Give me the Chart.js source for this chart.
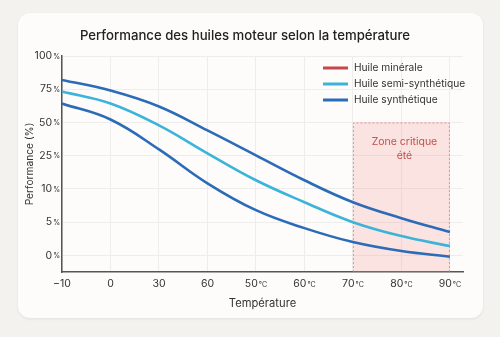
<!DOCTYPE html>
<html lang="fr">
<head>
<meta charset="utf-8">
<title>Performance des huiles moteur</title>
<script src="https://cdn.jsdelivr.net/npm/chart.js@4/dist/chart.umd.min.js"></script>
<style>
  html, body { margin: 0; padding: 0; background: #f3f2ef; }
  body { width: 500px; height: 337px; position: relative; overflow: hidden; }
  .card {
    position: absolute; left: 18px; top: 13px; width: 465px; height: 305px;
    background: #fdfcfa; border-radius: 12px;
    box-shadow: 0 1px 3px rgba(0, 0, 0, 0.08);
  }
  #chart { position: absolute; left: 0; top: 0; }
</style>
</head>
<body>
<div class="card"></div>
<canvas id="chart" width="500" height="337"></canvas>
<script>
// ========== Data ==========

const chartTitle = 'Performance des huiles moteur selon la température';
const tempLabels = ['\u221210', '0', '30', '60', '50\u00b0C', '60\u00b0C', '70\u00b0C', '80\u00b0C', '90\u00b0C'];
const perfLabels = ['0%', '5%', '10%', '25%', '50%', '75%', '100%'];

const seriesNames = ['Huile minérale', 'Huile semi-synthétique', 'Huile synthétique'];
const mineralData = [4.57, 4.09, 3.19, 2.17, 1.36, 0.82, 0.40, 0.13, -0.04];
const semiData = [4.93, 4.57, 3.91, 3.07, 2.26, 1.60, 1.00, 0.58, 0.28];
const synthData = [5.28, 4.96, 4.48, 3.76, 3.01, 2.26, 1.60, 1.12, 0.70];

// critical zone: from 70°C to 90°C, up to the 50% level
const zoneX = [6, 8];
const zoneTop = 4;
const zoneText = ['Zone critique', 'été'];

// ========== Styles ==========

const FONT = 'Inter, "Noto Sans", sans-serif';
const lineColors = ['#2b6bb7', '#3cb4da', '#2b6bb7'];
const legendColors = ['#c9474a', '#3cb4da', '#2b6bb7'];

function toPoints(values) {
  return values.map((v, i) => ({ x: i, y: v }));
}

// ========== Plugins ==========

// draw a tick label with a smaller unit suffix ("100 %", "50 °C")
function drawSplitLabel(ctx, text, x, y, align) {
  const m = text.match(/^([\u2212\-]?\d+)(.*)$/);
  const num = m ? m[1] : text;
  const unit = m ? m[2] : '';
  ctx.font = '10.5px ' + FONT;
  const wNum = ctx.measureText(num).width;
  ctx.font = '7px ' + FONT;
  const wUnit = unit ? ctx.measureText(unit).width + 1 : 0;
  const total = wNum + wUnit;
  const start = align === 'right' ? x - total : x - total / 2;
  ctx.textAlign = 'left';
  ctx.textBaseline = 'middle';
  ctx.font = '10.5px ' + FONT;
  ctx.fillText(num, start, y);
  if (unit) {
    ctx.font = '7px ' + FONT;
    ctx.fillText(unit, start + wNum + 1, y + 0.5);
  }
}

const tickLabelPlugin = {
  id: 'tickLabels',
  afterDraw(chart) {
    const { ctx, scales: { x, y }, chartArea } = chart;
    ctx.save();
    ctx.fillStyle = '#333';
    y.ticks.forEach(t => {
      drawSplitLabel(ctx, perfLabels[t.value], chartArea.left - 2, y.getPixelForValue(t.value), 'right');
    });
    x.ticks.forEach(t => {
      drawSplitLabel(ctx, tempLabels[t.value], x.getPixelForValue(t.value), chartArea.bottom + 12, 'center');
    });
    ctx.restore();
  },
};

const zonePlugin = {
  id: 'criticalZone',
  beforeDatasetsDraw(chart) {
    const { ctx, scales: { x, y } } = chart;
    const left = x.getPixelForValue(zoneX[0]);
    const right = x.getPixelForValue(zoneX[1]);
    const top = y.getPixelForValue(zoneTop);
    const bottom = y.bottom;
    ctx.save();
    ctx.fillStyle = 'rgba(247, 150, 150, 0.25)';
    ctx.fillRect(left, top, right - left, bottom - top);
    ctx.strokeStyle = 'rgba(224, 120, 120, 0.75)';
    ctx.lineWidth = 1;
    ctx.setLineDash([2, 2]);
    ctx.beginPath();
    ctx.moveTo(left + 0.5, bottom);
    ctx.lineTo(left + 0.5, top + 0.5);
    ctx.lineTo(right - 0.5, top + 0.5);
    ctx.lineTo(right - 0.5, bottom);
    ctx.stroke();
    ctx.setLineDash([]);
    ctx.fillStyle = '#c0504d';
    ctx.font = '10.5px ' + FONT;
    ctx.textAlign = 'center';
    ctx.textBaseline = 'middle';
    const cx = (left + right) / 2 + 3;
    zoneText.forEach((line, i) => ctx.fillText(line, cx, top + 19 + i * 14));
    ctx.restore();
  },
};

const titleLegendPlugin = {
  id: 'titleAndLegend',
  afterDraw(chart) {
    const { ctx } = chart;
    ctx.save();
    ctx.fillStyle = '#222';
    ctx.font = '500 13.2px ' + FONT;
    ctx.textAlign = 'center';
    ctx.textBaseline = 'middle';
    ctx.fillText(chartTitle, 245, 36);

    chart.data.datasets.forEach((ds, i) => {
      const yy = 68 + i * 16;
      ctx.strokeStyle = legendColors[i];
      ctx.lineWidth = 3;
      ctx.beginPath();
      ctx.moveTo(323, yy);
      ctx.lineTo(348, yy);
      ctx.stroke();
      ctx.fillStyle = '#333';
      ctx.font = '10.2px ' + FONT;
      ctx.textAlign = 'left';
      ctx.fillText(ds.label, 354, yy);
    });
    ctx.restore();
  },
};

// ========== Chart ==========

const ctx = document.getElementById('chart').getContext('2d');

new Chart(ctx, {
  type: 'line',
  data: {
    datasets: [mineralData, semiData, synthData].map((values, i) => ({
      label: seriesNames[i],
      data: toPoints(values),
      borderColor: lineColors[i],
      borderWidth: 2.6,
      pointRadius: 0,
      tension: 0.4,
      fill: false,
    })),
  },
  options: {
    responsive: false,
    animation: false,
    layout: { padding: { left: 0, right: 37, top: 56, bottom: 0 } },
    plugins: {
      legend: { display: false },
      tooltip: { enabled: false },
      title: { display: false },
    },
    scales: {
      x: {
        type: 'linear',
        min: 0,
        max: 8.27,
        afterBuildTicks: scale => { scale.ticks = tempLabels.map((_, i) => ({ value: i })); },
        afterFit: scale => { scale.height = 65; },
        ticks: { display: false },
        grid: { color: '#ededeb', drawTicks: false },
        border: { color: '#555', width: 1.5 },
        title: {
          display: true,
          text: 'Température',
          color: '#333',
          font: { family: FONT, size: 11.2 },
          padding: { top: 4, bottom: 27 },
        },
      },
      y: {
        type: 'linear',
        min: -0.5,
        max: 6,
        afterBuildTicks: scale => { scale.ticks = perfLabels.map((_, i) => ({ value: i })); },
        afterFit: scale => { scale.width = 62; },
        ticks: { display: false },
        grid: { color: '#ededeb', drawTicks: false },
        border: { color: '#555', width: 1.5 },
        title: {
          display: true,
          text: 'Performance (%)',
          color: '#333',
          font: { family: FONT, size: 10.2 },
          padding: { top: 24, bottom: 4 },
        },
      },
    },
  },
  plugins: [zonePlugin, tickLabelPlugin, titleLegendPlugin],
});
</script>
</body>
</html>
